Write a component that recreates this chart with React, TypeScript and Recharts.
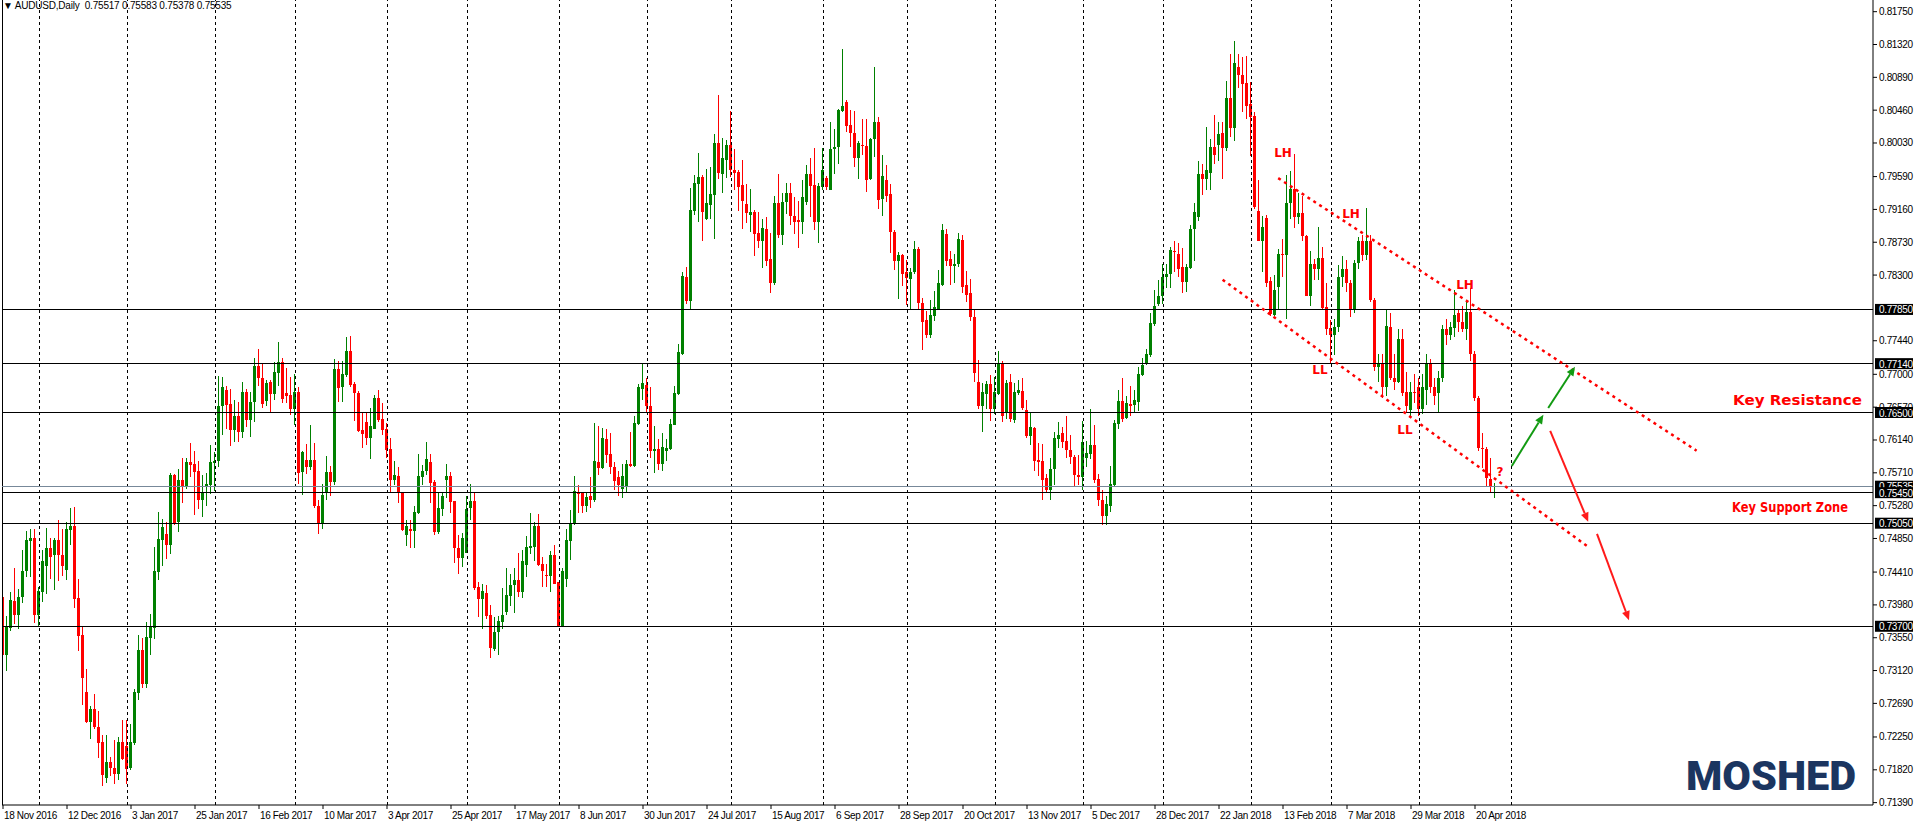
import React from 'react'
import { ComposedChart, Bar, XAxis, YAxis, ReferenceLine, ReferenceDot } from 'recharts'

// AUDUSD daily candles, 18 Nov 2016 .. 27 Apr 2018, prices in pips (x 0.0001)
const openPips = [
  7408, 7332, 7368, 7403, 7385, 7408, 7442, 7482, 7485, 7385,
  7415, 7449, 7472, 7463, 7483, 7464, 7444, 7496, 7501, 7407,
  7358, 7284, 7245, 7261, 7238, 7218, 7171, 7192, 7185, 7177,
  7219, 7213, 7184, 7217, 7283, 7339, 7294, 7355, 7368, 7441,
  7483, 7491, 7477, 7568, 7506, 7561, 7553, 7585, 7582, 7573,
  7535, 7553, 7555, 7584, 7587, 7658, 7680, 7661, 7627, 7645,
  7624, 7677, 7640, 7664, 7711, 7695, 7665, 7690, 7674, 7702,
  7716, 7676, 7673, 7655, 7677, 7572, 7588, 7579, 7588, 7528,
  7505, 7545, 7572, 7559, 7707, 7683, 7699, 7731, 7687, 7675,
  7627, 7637, 7617, 7629, 7669, 7641, 7629, 7602, 7562, 7567,
  7545, 7490, 7498, 7495, 7518, 7565, 7573, 7585, 7559, 7494,
  7524, 7562, 7567, 7534, 7472, 7460, 7466, 7525, 7534, 7421,
  7406, 7414, 7385, 7340, 7362, 7375, 7389, 7409, 7424, 7431,
  7415, 7450, 7473, 7474, 7501, 7452, 7437, 7436, 7463, 7428,
  7370, 7432, 7482, 7504, 7545, 7545, 7527, 7541, 7535, 7585,
  7577, 7615, 7596, 7579, 7566, 7550, 7552, 7582, 7580, 7635,
  7681, 7686, 7659, 7600, 7602, 7583, 7600, 7602, 7634, 7674,
  7727, 7828, 7796, 7914, 7949, 7959, 7903, 7922, 7935, 8003,
  7962, 7981, 8001, 7968, 7965, 7948, 7923, 7909, 7913, 7885,
  7874, 7890, 7851, 7819, 7924, 7883, 7926, 7938, 7908, 7902,
  7900, 7926, 7962, 7948, 7900, 7946, 7957, 7941, 7995, 7998,
  8045, 8057, 8027, 8016, 7984, 8001, 7999, 7956, 8008, 8030,
  7930, 7955, 7936, 7886, 7848, 7856, 7834, 7825, 7834, 7864,
  7794, 7771, 7751, 7776, 7786, 7817, 7884, 7851, 7842, 7845,
  7876, 7817, 7806, 7775, 7690, 7658, 7674, 7687, 7655, 7674,
  7714, 7649, 7690, 7640, 7676, 7678, 7653, 7619, 7630, 7588,
  7586, 7564, 7549, 7576, 7615, 7623, 7613, 7601, 7592, 7568,
  7566, 7591, 7596, 7607, 7563, 7535, 7515, 7528, 7555, 7635,
  7665, 7643, 7661, 7660, 7664, 7699, 7714, 7725, 7766, 7792,
  7803, 7827, 7831, 7862, 7858, 7840, 7821, 7839, 7890, 7906,
  7963, 7956, 7964, 7998, 8000, 8016, 7997, 8062, 8023, 8102,
  8092, 8082, 8054, 8038, 7914, 7875, 7905, 7822, 7778, 7815,
  7858, 7856, 7924, 7943, 7906, 7911, 7881, 7802, 7845, 7838,
  7852, 7788, 7761, 7752, 7762, 7827, 7838, 7820, 7786, 7846,
  7874, 7856, 7875, 7797, 7709, 7714, 7683, 7762, 7695, 7690,
  7746, 7677, 7653, 7677, 7683, 7654, 7680, 7714, 7683, 7675,
  7695, 7759, 7751, 7761, 7780, 7768, 7760, 7782, 7727, 7669,
  7604, 7602, 7563, 7552,
]
const highPips = [
  7419, 7383, 7415, 7446, 7419, 7470, 7495, 7498, 7498, 7422,
  7470, 7499, 7485, 7485, 7509, 7498, 7506, 7525, 7526, 7432,
  7370, 7314, 7265, 7281, 7259, 7228, 7227, 7199, 7221, 7225,
  7247, 7247, 7242, 7288, 7358, 7355, 7375, 7386, 7474, 7520,
  7510, 7507, 7571, 7569, 7576, 7591, 7591, 7610, 7600, 7587,
  7568, 7571, 7607, 7598, 7698, 7696, 7685, 7681, 7667, 7664,
  7690, 7681, 7677, 7721, 7733, 7714, 7693, 7692, 7716, 7742,
  7721, 7708, 7696, 7700, 7684, 7600, 7609, 7634, 7610, 7535,
  7557, 7593, 7580, 7720, 7717, 7717, 7749, 7750, 7690, 7678,
  7650, 7650, 7656, 7673, 7680, 7662, 7636, 7616, 7587, 7578,
  7546, 7509, 7509, 7527, 7596, 7581, 7611, 7596, 7562, 7545,
  7544, 7583, 7572, 7534, 7490, 7492, 7541, 7556, 7545, 7428,
  7425, 7424, 7398, 7382, 7383, 7420, 7446, 7439, 7446, 7466,
  7470, 7488, 7518, 7506, 7517, 7461, 7452, 7469, 7476, 7428,
  7446, 7498, 7522, 7567, 7555, 7546, 7546, 7565, 7636, 7632,
  7630, 7629, 7623, 7585, 7574, 7583, 7588, 7625, 7645, 7687,
  7714, 7695, 7684, 7632, 7615, 7623, 7615, 7642, 7685, 7740,
  7834, 7840, 7944, 7961, 7990, 7961, 7969, 7971, 8015, 8066,
  8009, 8007, 8045, 7995, 7968, 7981, 7949, 7943, 7915, 7912,
  7904, 7906, 7885, 7934, 7963, 7938, 7950, 7951, 7932, 7927,
  7955, 7974, 7983, 7996, 7950, 7996, 7960, 8030, 8021, 8048,
  8126, 8059, 8046, 8045, 8005, 8035, 8035, 8010, 8103, 8037,
  7987, 7974, 7949, 7889, 7860, 7858, 7850, 7839, 7875, 7867,
  7800, 7783, 7797, 7809, 7837, 7897, 7890, 7862, 7858, 7885,
  7882, 7835, 7825, 7784, 7719, 7688, 7691, 7699, 7697, 7731,
  7717, 7693, 7701, 7689, 7693, 7695, 7666, 7650, 7631, 7610,
  7609, 7570, 7590, 7624, 7638, 7631, 7645, 7621, 7594, 7594,
  7639, 7613, 7655, 7634, 7570, 7548, 7540, 7580, 7640, 7679,
  7695, 7671, 7685, 7679, 7709, 7721, 7733, 7780, 7810, 7824,
  7845, 7845, 7867, 7875, 7872, 7865, 7845, 7896, 7924, 7979,
  7975, 8024, 8008, 8040, 8030, 8030, 8084, 8119, 8137, 8119,
  8115, 8117, 8083, 8044, 7955, 7907, 7909, 7828, 7830, 7864,
  7877, 7961, 7966, 7989, 7937, 7934, 7882, 7861, 7851, 7893,
  7867, 7820, 7771, 7772, 7843, 7855, 7850, 7824, 7850, 7880,
  7882, 7918, 7882, 7800, 7727, 7727, 7786, 7780, 7727, 7759,
  7759, 7703, 7690, 7700, 7695, 7700, 7727, 7720, 7695, 7705,
  7765, 7773, 7768, 7810, 7785, 7790, 7798, 7813, 7730, 7672,
  7623, 7605, 7590, 7558,
]
const lowPips = [
  7332, 7312, 7364, 7373, 7366, 7401, 7434, 7434, 7374, 7369,
  7402, 7412, 7432, 7418, 7429, 7436, 7431, 7477, 7394, 7338,
  7267, 7243, 7223, 7236, 7198, 7161, 7165, 7174, 7164, 7169,
  7195, 7164, 7182, 7215, 7274, 7289, 7289, 7332, 7353, 7431,
  7449, 7458, 7465, 7503, 7494, 7531, 7550, 7566, 7516, 7524,
  7513, 7528, 7543, 7547, 7579, 7620, 7629, 7606, 7612, 7611,
  7617, 7631, 7618, 7637, 7685, 7656, 7658, 7650, 7666, 7685,
  7662, 7663, 7647, 7634, 7556, 7542, 7569, 7575, 7525, 7491,
  7498, 7535, 7541, 7555, 7664, 7664, 7697, 7683, 7639, 7624,
  7604, 7608, 7589, 7628, 7638, 7621, 7590, 7544, 7555, 7532,
  7495, 7475, 7472, 7472, 7517, 7555, 7568, 7532, 7490, 7491,
  7514, 7538, 7519, 7453, 7439, 7447, 7466, 7509, 7418, 7382,
  7367, 7380, 7328, 7337, 7332, 7366, 7385, 7396, 7388, 7408,
  7407, 7435, 7465, 7455, 7449, 7421, 7422, 7415, 7425, 7370,
  7370, 7421, 7457, 7503, 7519, 7519, 7520, 7525, 7533, 7568,
  7576, 7584, 7570, 7548, 7540, 7538, 7545, 7579, 7579, 7634,
  7666, 7649, 7591, 7571, 7575, 7573, 7587, 7601, 7633, 7673,
  7725, 7792, 7786, 7909, 7899, 7875, 7902, 7903, 7877, 7956,
  7937, 7957, 7959, 7941, 7914, 7890, 7898, 7887, 7855, 7866,
  7839, 7842, 7807, 7817, 7879, 7869, 7910, 7896, 7884, 7866,
  7884, 7922, 7906, 7889, 7872, 7941, 7941, 7941, 7963, 7975,
  8043, 8018, 7998, 7971, 7956, 7987, 7939, 7955, 7985, 7917,
  7908, 7926, 7859, 7836, 7799, 7816, 7791, 7785, 7832, 7786,
  7732, 7747, 7748, 7770, 7784, 7816, 7842, 7817, 7819, 7841,
  7807, 7795, 7770, 7690, 7655, 7625, 7655, 7639, 7648, 7673,
  7638, 7642, 7638, 7636, 7673, 7653, 7616, 7607, 7573, 7567,
  7535, 7544, 7535, 7555, 7603, 7603, 7591, 7583, 7552, 7555,
  7549, 7579, 7589, 7558, 7528, 7502, 7502, 7520, 7552, 7629,
  7637, 7641, 7646, 7651, 7652, 7698, 7712, 7723, 7763, 7789,
  7792, 7813, 7813, 7834, 7827, 7807, 7808, 7838, 7848, 7901,
  7935, 7941, 7941, 7976, 7979, 7956, 7993, 8011, 8005, 8075,
  8043, 8035, 7986, 7917, 7874, 7834, 7815, 7776, 7776, 7784,
  7828, 7773, 7903, 7892, 7897, 7874, 7802, 7790, 7824, 7824,
  7784, 7752, 7714, 7725, 7755, 7815, 7808, 7775, 7780, 7838,
  7848, 7850, 7795, 7705, 7690, 7669, 7672, 7693, 7680, 7688,
  7672, 7650, 7645, 7662, 7645, 7648, 7660, 7675, 7660, 7650,
  7690, 7738, 7745, 7749, 7755, 7755, 7745, 7717, 7665, 7600,
  7577, 7553, 7544, 7538,
]
const closePips = [
  7332, 7369, 7404, 7385, 7408, 7442, 7483, 7485, 7385, 7416,
  7456, 7472, 7461, 7483, 7463, 7449, 7498, 7501, 7406, 7357,
  7302, 7245, 7262, 7238, 7217, 7175, 7192, 7185, 7177, 7219,
  7196, 7183, 7219, 7284, 7339, 7295, 7356, 7369, 7442, 7484,
  7500, 7477, 7568, 7505, 7561, 7554, 7585, 7581, 7572, 7535,
  7546, 7557, 7585, 7587, 7658, 7684, 7660, 7627, 7645, 7625,
  7677, 7640, 7664, 7711, 7695, 7661, 7689, 7674, 7703, 7716,
  7668, 7672, 7655, 7677, 7571, 7598, 7579, 7588, 7527, 7505,
  7542, 7572, 7559, 7707, 7682, 7701, 7731, 7686, 7675, 7626,
  7622, 7617, 7632, 7669, 7640, 7627, 7601, 7562, 7568, 7544,
  7496, 7501, 7495, 7520, 7567, 7574, 7589, 7558, 7494, 7525,
  7541, 7567, 7533, 7472, 7460, 7485, 7524, 7534, 7420, 7406,
  7416, 7384, 7342, 7363, 7377, 7385, 7411, 7424, 7430, 7415,
  7455, 7474, 7475, 7501, 7450, 7442, 7436, 7463, 7426, 7370,
  7443, 7483, 7504, 7547, 7544, 7527, 7539, 7536, 7587, 7577,
  7617, 7594, 7578, 7560, 7555, 7567, 7583, 7580, 7636, 7684,
  7689, 7659, 7600, 7602, 7583, 7605, 7603, 7635, 7675, 7729,
  7829, 7796, 7915, 7950, 7959, 7913, 7924, 7936, 8003, 7964,
  7984, 8001, 7967, 7964, 7946, 7927, 7911, 7913, 7884, 7874,
  7892, 7849, 7819, 7924, 7883, 7926, 7938, 7908, 7900, 7900,
  7932, 7962, 7947, 7900, 7947, 7968, 7945, 7995, 7998, 8046,
  8051, 8025, 8016, 7984, 8003, 8000, 7955, 8008, 8030, 7928,
  7960, 7934, 7886, 7848, 7856, 7832, 7826, 7834, 7864, 7794,
  7769, 7751, 7778, 7788, 7820, 7889, 7849, 7842, 7845, 7877,
  7814, 7804, 7775, 7702, 7658, 7677, 7687, 7655, 7677, 7714,
  7646, 7689, 7642, 7677, 7679, 7656, 7619, 7631, 7586, 7585,
  7562, 7549, 7576, 7616, 7621, 7611, 7601, 7592, 7568, 7566,
  7611, 7597, 7607, 7562, 7535, 7515, 7530, 7557, 7636, 7665,
  7641, 7663, 7659, 7666, 7701, 7712, 7727, 7767, 7790, 7803,
  7827, 7831, 7863, 7861, 7838, 7821, 7840, 7891, 7913, 7963,
  7956, 7968, 7998, 7987, 8015, 7997, 8062, 8023, 8108, 8092,
  8080, 8052, 8037, 7919, 7875, 7893, 7820, 7779, 7811, 7858,
  7856, 7924, 7943, 7906, 7911, 7881, 7802, 7845, 7838, 7852,
  7787, 7760, 7752, 7762, 7827, 7838, 7820, 7786, 7846, 7874,
  7856, 7875, 7797, 7709, 7714, 7683, 7763, 7695, 7690, 7746,
  7675, 7659, 7677, 7675, 7654, 7683, 7714, 7683, 7672, 7695,
  7759, 7751, 7762, 7778, 7768, 7760, 7781, 7727, 7669, 7603,
  7602, 7564, 7553, 7554,
]

// one date label every 16 bars
const dateLabels = [
  '18 Nov 2016', '12 Dec 2016', '3 Jan 2017', '25 Jan 2017', '16 Feb 2017', '10 Mar 2017',
  '3 Apr 2017', '25 Apr 2017', '17 May 2017', '8 Jun 2017', '30 Jun 2017', '24 Jul 2017',
  '15 Aug 2017', '6 Sep 2017', '28 Sep 2017', '20 Oct 2017', '13 Nov 2017', '5 Dec 2017',
  '28 Dec 2017', '22 Jan 2018', '13 Feb 2018', '7 Mar 2018', '29 Mar 2018', '20 Apr 2018',
]
const BARS_PER_LABEL = 16
// bar index of the first bar of each month (dashed grid)
const monthStarts = [9, 31, 53, 73, 96, 116, 139, 161, 182, 205, 226, 248, 270, 290, 312, 332, 354, 377]

const priceTicks = [
  0.7139, 0.7182, 0.7225, 0.7269, 0.7312, 0.7355, 0.7398, 0.7441, 0.7485, 0.7528, 0.7571, 0.7614,
  0.7657, 0.77, 0.7744, 0.783, 0.7873, 0.7916, 0.7959, 0.8003, 0.8046, 0.8089, 0.8132, 0.8175,
]
const priceDomain = [0.71359, 0.81903]
const levels = [0.7785, 0.7714, 0.765, 0.7545, 0.7505, 0.737]
const bidPrice = 0.75535
const lastBar = { o: 0.75517, h: 0.75583, l: 0.75378, c: 0.75535 }

// drawn objects, in (bar index, price)
const channelLines = [
  [{ x: 318.8, y: 0.7957 }, { x: 423.4, y: 0.76 }],
  [{ x: 304.9, y: 0.7824 }, { x: 396.3, y: 0.7474 }],
]
const greenArrows = [
  [{ x: 377.2, y: 0.758 }, { x: 385.1, y: 0.7647 }],
  [{ x: 386.3, y: 0.7656 }, { x: 393.0, y: 0.771 }],
]
const redArrows = [
  [{ x: 386.8, y: 0.7626 }, { x: 396.3, y: 0.7507 }],
  [{ x: 398.5, y: 0.7491 }, { x: 406.5, y: 0.7378 }],
]
const swingLabels = [
  { text: 'LH', x: 320, y: 0.799 },
  { text: 'LH', x: 337, y: 0.7911 },
  { text: 'LH', x: 365.5, y: 0.7818 },
  { text: 'LL', x: 329.25, y: 0.7706 },
  { text: 'LL', x: 350.5, y: 0.7628 },
  { text: '?', x: 374.25, y: 0.7573 },
]
const zoneLabels = [
  { text: 'Key Resistance', x: 432.5, y: 0.7667, size: 14, len: 129 },
  { text: 'Key Support Zone', x: 432.25, y: 0.7526, size: 14, len: 116 },
]

const rows = openPips.map((o, i) => ({
  i,
  o: o / 1e4,
  h: highPips[i] / 1e4,
  l: lowPips[i] / 1e4,
  c: closePips[i] / 1e4,
}))

const AXIS_FONT = '"Liberation Sans", Arial, sans-serif'
const LABEL_FONT = '"DejaVu Sans", Verdana, sans-serif'
const BULL = '#008000'
const BEAR = '#ff0000'
const fmt = (v: number) => v.toFixed(5)

const Candle = (props: any) => {
  const { x, y, width, height, payload } = props
  if (x == null || y == null) return null
  const { o, h, l, c } = payload
  const color = c >= o ? BULL : BEAR
  const k = h > l ? height / (h - l) : 0
  const yOf = (v: number) => y + (h - v) * k
  const cx = Math.floor(x + width / 2) + 0.5
  const top = yOf(Math.max(o, c))
  const bot = yOf(Math.min(o, c))
  return (
    <g>
      <line x1={cx} x2={cx} y1={y} y2={y + height} stroke={color} strokeWidth={1} shapeRendering="crispEdges" />
      <rect x={cx - 1.5} y={top} width={3} height={Math.max(1, bot - top)} fill={color} shapeRendering="crispEdges" />
    </g>
  )
}

// horizontal level with its black price tag on the right axis
const levelShape = (value: number, color: string) => (p: any) => {
  const right = Math.max(p.x1, p.x2)
  const left = Math.min(p.x1, p.x2)
  return (
    <g>
      <line x1={left} y1={p.y1} x2={right} y2={p.y2} stroke={color} strokeWidth={1} shapeRendering="crispEdges" />
      <rect x={right + 2} y={p.y1 - 5.5} width={38} height={11} fill="#000" />
      <text x={right + 6} y={p.y1 + 4} fill="#fff" fontSize={10} letterSpacing={-0.35} fontFamily={AXIS_FONT}>
        {fmt(value)}
      </text>
    </g>
  )
}

const arrowShape = (color: string) => (p: any) => {
  const { x1, y1, x2, y2 } = p
  const a = Math.atan2(y2 - y1, x2 - x1)
  const bx = x2 - 9 * Math.cos(a)
  const by = y2 - 9 * Math.sin(a)
  const nx = -Math.sin(a) * 4
  const ny = Math.cos(a) * 4
  return (
    <g>
      <line x1={x1} y1={y1} x2={bx} y2={by} stroke={color} strokeWidth={2} />
      <polygon points={`${x2},${y2} ${bx + nx},${by + ny} ${bx - nx},${by - ny}`} fill={color} />
    </g>
  )
}

const DateTick = (props: any) => {
  const { x, y, payload } = props
  return (
    <text x={x + 1} y={y} dy={8} fontSize={10} letterSpacing={-0.35} fontFamily={AXIS_FONT} fill="#000" textAnchor="start">
      {dateLabels[payload.value / BARS_PER_LABEL]}
    </text>
  )
}

const PriceTick = (props: any) => {
  const { x, y, payload } = props
  return (
    <text x={x} y={y} dy={3.5} fontSize={10} letterSpacing={-0.35} fontFamily={AXIS_FONT} fill="#000" textAnchor="start">
      {fmt(payload.value)}
    </text>
  )
}

export default function App() {
  const dateTicks = dateLabels.map((_, k) => k * BARS_PER_LABEL)
  return (
    <div style={{ position: 'relative', width: 1916, height: 826, background: '#fff', overflow: 'hidden' }}>
      <style>{'body{margin:0}'}</style>
      <ComposedChart width={1916} height={826} data={rows} margin={{ top: 0, right: 0, bottom: 0, left: 2 }}>
        <XAxis
          type="number"
          dataKey="i"
          domain={[-0.25, 467.5]}
          allowDataOverflow
          ticks={dateTicks}
          interval={0}
          height={21}
          tickSize={4}
          tickMargin={2}
          stroke="#000"
          tick={<DateTick />}
        />
        <YAxis
          orientation="right"
          type="number"
          domain={priceDomain}
          allowDataOverflow
          ticks={priceTicks}
          interval={0}
          width={43}
          tickSize={4}
          tickMargin={2}
          stroke="#000"
          tick={<PriceTick />}
        />
        <ReferenceLine x={-0.25} stroke="#000" shapeRendering="crispEdges" />
        {monthStarts.map((m) => (
          <ReferenceLine key={'m' + m} x={m} stroke="#000" strokeDasharray="3 3" shapeRendering="crispEdges" />
        ))}
        <ReferenceLine y={bidPrice} shape={levelShape(bidPrice, '#778899')} />
        {levels.map((lv) => (
          <ReferenceLine key={'l' + lv} y={lv} shape={levelShape(lv, '#000')} />
        ))}
        <Bar dataKey={(r: any) => [r.l, r.h]} barSize={3} shape={<Candle />} isAnimationActive={false} />
        {channelLines.map((seg, k) => (
          <ReferenceLine key={'c' + k} segment={seg} stroke="#ff0000" strokeWidth={2.5} strokeDasharray="3 4" />
        ))}
        {greenArrows.map((seg, k) => (
          <ReferenceLine key={'g' + k} segment={seg} shape={arrowShape('#129a12')} />
        ))}
        {redArrows.map((seg, k) => (
          <ReferenceLine key={'r' + k} segment={seg} shape={arrowShape('#ff1a1a')} />
        ))}
        {swingLabels.map((lab, k) => (
          <ReferenceDot
            key={'s' + k}
            x={lab.x}
            y={lab.y}
            r={1}
            shape={(p: any) => (
              <text x={p.cx} y={p.cy} dy={4.5} textAnchor="middle" fill="#ff0000" fontSize={12} fontWeight="bold" fontFamily={LABEL_FONT}>
                {lab.text}
              </text>
            )}
          />
        ))}
        {zoneLabels.map((lab, k) => (
          <ReferenceDot
            key={'z' + k}
            x={lab.x}
            y={lab.y}
            r={1}
            shape={(p: any) => (
              <text
                x={p.cx}
                y={p.cy}
                dy={5}
                textAnchor="start"
                fill="#ff0000"
                fontSize={lab.size}
                fontWeight="bold"
                fontFamily={LABEL_FONT}
                textLength={lab.len}
                lengthAdjust="spacingAndGlyphs"
              >
                {lab.text}
              </text>
            )}
          />
        ))}
      </ComposedChart>
      <svg width={1916} height={826} style={{ position: 'absolute', left: 0, top: 0, pointerEvents: 'none' }}>
        <text x={3} y={9} fontSize={10} letterSpacing={-0.2} fontFamily={AXIS_FONT} fill="#000" style={{ whiteSpace: 'pre' }}>
          {`▼ AUDUSD,Daily  ${fmt(lastBar.o)} ${fmt(lastBar.h)} ${fmt(lastBar.l)} ${fmt(lastBar.c)}`}
        </text>
        <text x={1686} y={790} fontSize={41} fontWeight={900} fontFamily="Roboto, sans-serif" fill="#1b3560" textLength={170} lengthAdjust="spacingAndGlyphs">
          MOSHED
        </text>
      </svg>
    </div>
  )
}
